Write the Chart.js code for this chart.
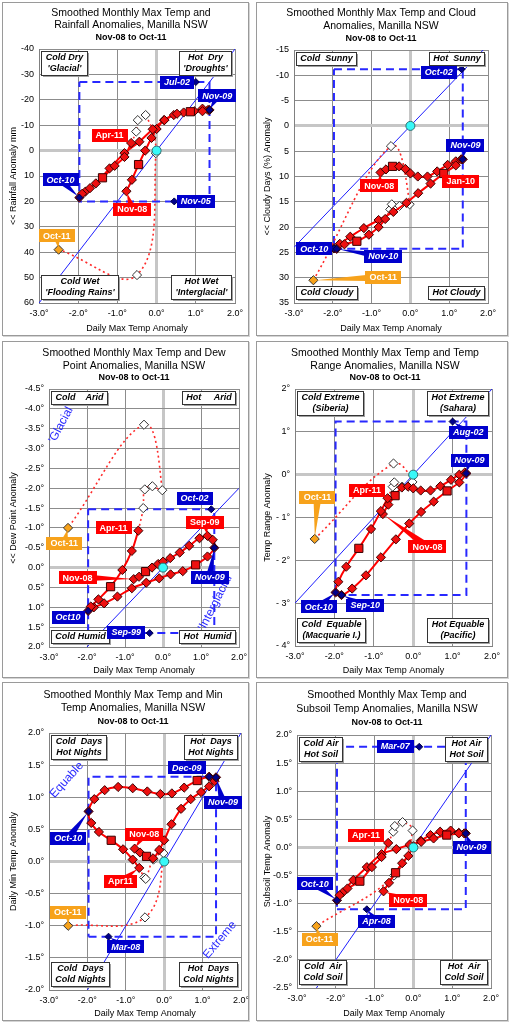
<!DOCTYPE html>
<html>
<head>
<meta charset="utf-8">
<title>Manilla NSW smoothed anomaly loops</title>
<script src="https://cdn.jsdelivr.net/npm/chart.js@4.4.1/dist/chart.umd.min.js"></script>
<style>
  body { margin: 0; background: #fff; }
  .panel { position: absolute; border: 1px solid #9a9a9a; background: #fff; box-shadow: 1px 1px 0 #d4d4d4; }
  .panel canvas { display: block; }
</style>
</head>
<body>
<div class="panel" style="left:2px;top:2px"><canvas id="rain" width="245" height="332"></canvas></div>
<div class="panel" style="left:256px;top:2px"><canvas id="cloud" width="250" height="332"></canvas></div>
<div class="panel" style="left:2px;top:341px"><canvas id="dew" width="245" height="335"></canvas></div>
<div class="panel" style="left:256px;top:341px"><canvas id="range" width="250" height="335"></canvas></div>
<div class="panel" style="left:2px;top:682px"><canvas id="minT" width="245" height="337"></canvas></div>
<div class="panel" style="left:256px;top:682px"><canvas id="soil" width="250" height="337"></canvas></div>
<script>
const FONT = 'Arial, "Liberation Sans", Helvetica, sans-serif';

// months shown; after Apr-11 the smoothed values are provisional (dotted)
const months = ['Nov-08','Dec-08','Jan-09','Feb-09','Mar-09','Apr-09','May-09','Jun-09','Jul-09','Aug-09','Sep-09','Oct-09',
  'Nov-09','Dec-09','Jan-10','Feb-10','Mar-10','Apr-10','May-10','Jun-10','Jul-10','Aug-10','Sep-10','Oct-10',
  'Nov-10','Dec-10','Jan-11','Feb-11','Mar-11','Apr-11','May-11','Jun-11','Jul-11','Aug-11','Sep-11','Oct-11'];
const lastFull = 'Apr-11';

// x for every panel: smoothed daily max temp anomaly
const maxTemp = [-0.77,-0.63,-0.46,-0.29,-0.13,0.0,0.19,0.44,0.69,0.96,1.17,1.31,
  1.35,1.17,0.86,0.52,0.2,-0.1,-0.44,-0.82,-1.2,-1.55,-1.82,-1.97,
  -1.9,-1.7,-1.38,-1.07,-0.82,-0.65,-0.52,-0.48,-0.28,-0.02,-0.5,-2.5];

const rainfall = [16,11.5,5.5,0,-5,-8.5,-12,-14,-15,-15.5,-16.5,-16,
  -16,-15.5,-15.3,-14.5,-12,-8.4,-3.5,1,7,12.9,16.2,18.5,
  17,14.8,10.7,6,2.5,-3,-7.5,-12,-14,1,49,39];
const cloud = [9.2,8.6,8.0,8.0,8.5,9.4,10.0,10.0,9.0,7.7,7.0,6.6,
  6.6,7.8,9.4,11.4,13.3,15.2,17.0,18.6,20.2,21.9,23.3,24.2,
  24.3,23.4,22.8,21.5,20.0,18.4,16.5,15.5,15.8,15.5,4.0,30.5];
const dewPoint = [0.29,0.23,0.1,0.0,-0.09,-0.15,-0.24,-0.38,-0.55,-0.74,-0.8,-0.7,
  -0.5,-0.28,-0.07,0.09,0.17,0.27,0.38,0.52,0.73,0.9,1.0,1.09,
  0.98,0.8,0.48,0.06,-0.42,-0.93,-1.5,-1.97,-2.05,-1.95,-3.6,-1.0];
const tempRange = [-0.92,-0.7,-0.49,-0.3,-0.28,-0.32,-0.37,-0.37,-0.27,-0.12,0.0,0.05,
  0.03,-0.18,-0.38,-0.63,-0.87,-1.14,-1.51,-1.93,-2.35,-2.66,-2.81,-2.75,
  -2.5,-2.15,-1.72,-1.27,-0.85,-0.55,-0.28,-0.18,-0.28,-0.17,0.26,-1.5];
const minTemp = [0.2,0.14,0.08,0.05,0.18,0.33,0.58,0.82,0.97,1.08,1.17,1.25,
  1.31,1.32,1.26,1.15,1.06,1.05,1.09,1.14,1.16,1.11,0.97,0.78,
  0.6,0.46,0.33,0.19,0.03,-0.1,-0.25,-0.27,0.03,0.13,-0.87,-1.0];
const subsoil = [-0.78,-0.63,-0.45,-0.28,-0.15,0.02,0.12,0.22,0.28,0.3,0.26,0.25,
  0.25,0.25,0.22,0.16,0.1,0.05,-0.03,-0.12,-0.35,-0.58,-0.8,-0.94,
  -0.85,-0.73,-0.6,-0.35,-0.17,0.08,0.28,0.38,0.45,0.3,-0.5,-1.4];

// record extremes (month, max temp anomaly, other anomaly)
const rainRecords = [['Jul-02',1.0,-27],['Nov-05',0.45,20],['Nov-09',1.35,-16],['Oct-10',-1.97,18.5]];
const cloudRecords = [['Oct-02',1.32,-11.2],['Nov-09',1.35,6.6],['Oct-10',-1.97,24.2],['Nov-10',-1.9,24.3]];
const dewRecords = [['Oct-02',1.27,-1.47],['Nov-09',1.35,-0.5],['Oct-10',-1.97,1.09],['Sep-99',-0.35,1.65]];
const rangeRecords = [['Aug-02',1.0,1.24],['Nov-09',1.35,0.03],['Oct-10',-1.97,-2.75],['Sep-10',-1.82,-2.81]];
const minRecords = [['Mar-08',-1.45,-1.17],['Dec-09',1.17,1.32],['Nov-09',1.35,1.31],['Oct-10',-1.97,0.78]];
const soilRecords = [['Mar-07',0.15,1.79],['Apr-08',-1.2,-1.1],['Nov-09',1.35,0.25],['Oct-10',-1.97,-0.94]];

const origin = [0, 0];

// tick labels
const xTickLabels = ['-3.0°','-2.0°','-1.0°','0.0°','1.0°','2.0°'];
const rainTicks = ['-40','-30','-20','-10','0','10','20','30','40','50','60'];
const cloudTicks = ['-15','-10','-5','0','5','10','15','20','25','30','35'];
const dewTicks = ['-4.5°','-4.0°','-3.5°','-3.0°','-2.5°','-2.0°','-1.5°','-1.0°','-0.5°','0.0°','0.5°','1.0°','1.5°','2.0°'];
const rangeTicks = ['- 4°','- 3°','- 2°','- 1°','0°','1°','2°'];
const minTicks = ['-2.0°','-1.5°','-1.0°','-0.5°','0.0°','0.5°','1.0°','1.5°','2.0°'];
const soilTicks = ['-2.5°','-2.0°','-1.5°','-1.0°','-0.5°','0.0°','0.5°','1.0°','1.5°','2.0°'];

// quadrant captions: top-left, top-right, bottom-left, bottom-right
const rainQuads = [['Cold Dry',"'Glacial'"],['Hot  Dry',"'Droughts'"],['Cold Wet',"'Flooding Rains'"],['Hot Wet',"'Interglacial'"]];
const cloudQuads = [['Cold  Sunny'],['Hot  Sunny'],['Cold Cloudy'],['Hot Cloudy']];
const dewQuads = [['Cold    Arid'],['Hot     Arid'],['Cold Humid'],['Hot  Humid']];
const rangeQuads = [['Cold Extreme','(Siberia)'],['Hot Extreme','(Sahara)'],['Cold  Equable','(Macquarie I.)'],['Hot Equable','(Pacific)']];
const minQuads = [['Cold  Days','Hot Nights'],['Hot  Days','Hot Nights'],['Cold  Days','Cold Nights'],['Hot  Days','Cold Nights']];
const soilQuads = [['Cold Air','Hot Soil'],['Hot Air','Hot Soil'],['Cold  Air','Cold Soil'],['Hot  Air','Cold Soil']];

// callouts: text, colour (b blue / r red / o orange), box centre in axis units, month it points at
const rainCallouts = [['Jul-02','b',0.52,-27,null],['Nov-09','b',1.55,-21.5,'Nov-09'],['Apr-11','r',-1.2,-6,null],
  ['Oct-10','b',-2.45,11.5,'Oct-10'],['Nov-08','r',-0.62,23,'Nov-08'],['Nov-05','b',1.0,20,null],['Oct-11','o',-2.55,33.5,'Oct-11']];
const cloudCallouts = [['Oct-02','b',0.73,-10.6,null],['Nov-09','b',1.42,3.8,'Nov-09'],['Nov-08','r',-0.8,11.8,'Nov-08'],
  ['Jan-10','r',1.3,10.9,'Jan-10'],['Oct-10','b',-2.48,24.3,null],['Nov-10','b',-0.7,25.8,'Nov-10'],['Oct-11','o',-0.7,29.9,'Oct-11']];
const dewCallouts = [['Oct-02','b',0.83,-1.75,null],['Sep-09','r',1.1,-1.14,'Sep-09'],['Apr-11','r',-1.3,-1.0,null],
  ['Oct-11','o',-2.6,-0.62,'Oct-11'],['Nov-08','r',-2.25,0.25,'Nov-08'],['Nov-09','b',1.23,0.24,'Nov-09'],
  ['Oct10','b',-2.5,1.25,'Oct-10'],['Sep-99','b',-0.97,1.63,null]];
const rangeCallouts = [['Aug-02','b',1.4,0.99,'Aug-02'],['Nov-09','b',1.43,0.34,'Nov-09'],['Oct-11','o',-2.43,-0.53,'Oct-11'],
  ['Apr-11','r',-1.17,-0.37,null],['Nov-08','r',0.36,-1.68,'Nov-08'],['Oct-10','b',-2.4,-3.08,'Oct-10'],['Sep-10','b',-1.22,-3.05,'Sep-10']];
const minCallouts = [['Dec-09','b',0.59,1.46,null],['Nov-09','b',1.53,0.92,'Nov-09'],['Oct-10','b',-2.5,0.36,'Oct-10'],
  ['Nov-08','r',-0.52,0.42,'Nov-08'],['Apr11','r',-1.14,-0.31,'Apr-11'],['Oct-11','o',-2.51,-0.79,'Oct-11'],['Mar-08','b',-1.0,-1.33,'Mar-08']];
const soilCallouts = [['Mar-07','b',-0.47,1.8,null],['Apr-11','r',-1.22,0.22,'Apr-11'],['Nov-09','b',1.5,0.0,'Nov-09'],
  ['Oct-10','b',-2.54,-0.65,'Oct-10'],['Nov-08','r',-0.13,-0.94,'Nov-08'],['Apr-08','b',-0.95,-1.31,'Apr-08'],['Oct-11','o',-2.42,-1.63,'Oct-11']];

const period = 'Nov-08 to Oct-11';

const panels = [
  { canvas: 'rain', series: rainfall, records: rainRecords, yTicks: rainTicks, reverse: true, slope: -20,
    title: ['Smoothed Monthly Max Temp and', 'Rainfall Anomalies, Manilla NSW'], yTitle: '<< Rainfall Anomaly mm',
    quads: rainQuads, callouts: rainCallouts, notes: [], titleX: 128, titleY: [10, 22.5, 35], area: [36, 46, 13, 32] },
  { canvas: 'cloud', series: cloud, records: cloudRecords, yTicks: cloudTicks, reverse: true, slope: -8,
    title: ['Smoothed Monthly Max Temp and Cloud', 'Anomalies, Manilla NSW'], yTitle: '<< Cloudy Days (%) Anomaly',
    quads: cloudQuads, callouts: cloudCallouts, notes: [], titleX: 124, titleY: [10.5, 23, 36], area: [37, 47, 19, 32] },
  { canvas: 'dew', series: dewPoint, records: dewRecords, yTicks: dewTicks, reverse: true, slope: -1,
    title: ['Smoothed Monthly Max Temp and Dew', 'Point Anomalies, Manilla NSW'], yTitle: '<< Dew Point Anomaly',
    quads: dewQuads, callouts: dewCallouts,
    notes: [["'Glacial'", -2.67, -3.62, -62], ["'Interglacial'", 1.39, 0.86, -63]],
    titleX: 131, titleY: [11, 24, 36], area: [46, 47, 9, 30] },
  { canvas: 'range', series: tempRange, records: rangeRecords, yTicks: rangeTicks, reverse: false, slope: 1,
    title: ['Smoothed Monthly Max Temp and Temp', 'Range Anomalies, Manilla NSW'], yTitle: 'Temp Range Anomaly',
    quads: rangeQuads, callouts: rangeCallouts, notes: [], titleX: 128, titleY: [11, 24, 36], area: [38, 47, 15, 31] },
  { canvas: 'minT', series: minTemp, records: minRecords, yTicks: minTicks, reverse: false, slope: 1,
    title: ['Smoothed Monthly Max Temp and Min', 'Temp Anomalies, Manilla NSW'], yTitle: 'Daily Min Temp Anomaly',
    quads: minQuads, callouts: minCallouts,
    notes: [['Equable', -2.54, 1.27, -48], ['Extreme', 1.45, -1.22, -50]],
    titleX: 130, titleY: [12, 25.5, 38.5], area: [46, 50, 7, 30] },
  { canvas: 'soil', series: subsoil, records: soilRecords, yTicks: soilTicks, reverse: false, slope: 1,
    title: ['Smoothed Monthly Max Temp and', 'Subsoil Temp Anomalies, Manilla NSW'], yTitle: 'Subsoil Temp Anomaly',
    quads: soilQuads, callouts: soilCallouts, notes: [], titleX: 130, titleY: [12, 26, 39.5], area: [40, 52, 16, 32] }
];

const tickValue = label => parseFloat(label.replace(/[^0-9.\-]/g, ''));
const isZero = c => c.tick && Math.abs(c.tick.value) < 1e-9;
const gridStyle = {
  color: c => isZero(c) ? '#c6c6c6' : '#8c8c8c',
  lineWidth: c => isZero(c) ? 3 : 1,
  drawTicks: false
};
const fills = { b: '#0000cc', r: '#ff0000', o: '#f7a21b' };

function locate(p, ref) {
  const rec = p.records.find(r => r[0] === ref);
  if (rec) return [rec[1], rec[2]];
  const i = months.indexOf(ref);
  return [maxTemp[i], p.series[i]];
}

function overlay(p) {
  return {
    id: 'overlay',
    afterDatasetsDraw(chart) {
      const ctx = chart.ctx, a = chart.chartArea;
      const at = (x, y) => [chart.scales.x.getPixelForValue(x), chart.scales.y.getPixelForValue(y)];
      ctx.save();
      ctx.textAlign = 'center';
      ctx.textBaseline = 'middle';

      p.notes.forEach(([t, x, y, ang]) => {
        const [px, py] = at(x, y);
        ctx.save();
        ctx.translate(px, py);
        ctx.rotate(ang * Math.PI / 180);
        ctx.font = '12px ' + FONT;
        ctx.fillStyle = '#2a2aff';
        ctx.fillText(t, 0, 0);
        ctx.restore();
      });

      p.quads.forEach((lines, k) => {
        ctx.font = 'italic bold 9px ' + FONT;
        const w = Math.round(Math.max(...lines.map(l => ctx.measureText(l).width)) + 8);
        const h = lines.length * 11 + 2;
        const x = Math.round(k % 2 ? a.right - 4 - w : a.left + 2);
        const y = Math.round(k < 2 ? a.top + 2 : a.bottom - 4 - h);
        ctx.fillStyle = '#a0a0a0';
        ctx.fillRect(x + 2, y + 2, w, h);
        ctx.fillStyle = '#fff';
        ctx.fillRect(x, y, w, h);
        ctx.strokeStyle = '#333';
        ctx.lineWidth = 1;
        ctx.strokeRect(x + 0.5, y + 0.5, w, h);
        ctx.fillStyle = '#000';
        lines.forEach((l, j) => ctx.fillText(l, x + w / 2 + 0.5, y + 7 + j * 11));
      });

      p.callouts.forEach(([text, kind, cx, cy, ref]) => {
        const fill = fills[kind];
        ctx.font = (kind === 'b' ? 'italic bold ' : 'bold ') + '9px ' + FONT;
        const w = Math.round(ctx.measureText(text).width + 8), h = 13;
        const [bx, by] = at(cx, cy);
        ctx.fillStyle = fill;
        if (ref) {
          const [tx, ty] = at(...locate(p, ref));
          const dx = tx - bx, dy = ty - by, len = Math.hypot(dx, dy) || 1;
          const nx = -dy / len * 4, ny = dx / len * 4;
          ctx.beginPath();
          ctx.moveTo(bx + nx, by + ny);
          ctx.lineTo(tx - dx / len * 2, ty - dy / len * 2);
          ctx.lineTo(bx - nx, by - ny);
          ctx.closePath();
          ctx.fill();
        }
        ctx.fillRect(Math.round(bx - w / 2), Math.round(by - h / 2), w, h);
        ctx.fillStyle = '#fff';
        ctx.fillText(text, bx, by + 0.5);
      });
      ctx.restore();
    },
    afterDraw(chart) {
      const ctx = chart.ctx;
      ctx.save();
      ctx.fillStyle = '#000';
      ctx.textAlign = 'center';
      ctx.textBaseline = 'middle';
      ctx.font = '10.5px ' + FONT;
      ctx.fillText(p.title[0], p.titleX, p.titleY[0]);
      ctx.fillText(p.title[1], p.titleX, p.titleY[1]);
      ctx.font = 'bold 9px ' + FONT;
      ctx.fillText(period, p.titleX, p.titleY[2]);
      ctx.restore();
    }
  };
}

function makePanel(p) {
  const n = months.indexOf(lastFull) + 1;
  const pts = months.map((m, i) => ({ x: maxTemp[i], y: p.series[i] }));
  const solid = pts.slice(0, n);
  const tail = pts.slice(n - 1);
  const isJan = months.slice(0, n).map(m => m.startsWith('Jan'));
  const rx = p.records.map(r => r[1]), ry = p.records.map(r => r[2]);
  const x0 = Math.min(...rx), x1 = Math.max(...rx), y0 = Math.min(...ry), y1 = Math.max(...ry);
  const xVals = xTickLabels.map(tickValue), yVals = p.yTicks.map(tickValue);
  const xLo = xVals[0], xHi = xVals[xVals.length - 1];
  const [yw, padTop, padRight, xh] = p.area;
  const tickFont = { size: 9, family: FONT };

  new Chart(document.getElementById(p.canvas), {
    type: 'scatter',
    data: {
      datasets: [
        { data: [{ x: origin[0], y: origin[1] }], pointStyle: 'circle', pointRadius: 4.5,
          pointBackgroundColor: '#38f8f8', pointBorderColor: '#2a7070', pointBorderWidth: 1 },
        { data: p.records.map(r => ({ x: r[1], y: r[2] })), pointStyle: 'rectRot', pointRadius: 3.5,
          pointBackgroundColor: '#00008c', pointBorderColor: '#000040', pointBorderWidth: 1 },
        { data: solid, showLine: true, borderColor: '#ff0000', borderWidth: 2, tension: 0.35,
          pointStyle: isJan.map(j => j ? 'rect' : 'rectRot'), pointRadius: isJan.map(j => j ? 5.8 : 4.6),
          pointBackgroundColor: '#ee1010', pointBorderColor: '#3a0000', pointBorderWidth: 1 },
        { data: tail, showLine: true, borderColor: '#ff2a2a', borderWidth: 1.6, borderDash: [2, 3], tension: 0.4,
          pointStyle: 'rectRot', pointRadius: tail.map((_, i) => i === 0 ? 0 : 4.6),
          pointBackgroundColor: tail.map((_, i) => i === tail.length - 1 ? '#f7a21b' : '#ffffff'),
          pointBorderColor: '#333', pointBorderWidth: 1 },
        { data: [{ x: x0, y: y0 }, { x: x1, y: y0 }, { x: x1, y: y1 }, { x: x0, y: y1 }, { x: x0, y: y0 }],
          showLine: true, borderColor: '#2828ff', borderWidth: 2, borderDash: [8, 5], pointRadius: 0, tension: 0 },
        { data: [{ x: xLo, y: p.slope * xLo }, { x: xHi, y: p.slope * xHi }],
          showLine: true, borderColor: '#1e1eff', borderWidth: 1, pointRadius: 0, tension: 0, clip: 0 }
      ]
    },
    options: {
      responsive: false,
      animation: false,
      events: [],
      layout: { padding: { left: 0, top: padTop, right: padRight, bottom: 0 } },
      plugins: { legend: { display: false }, tooltip: { enabled: false } },
      scales: {
        x: {
          type: 'linear', min: xLo, max: xHi,
          afterBuildTicks: s => { s.ticks = xVals.map(v => ({ value: v })); },
          afterFit: s => { s.height = xh; s.paddingLeft = 0; s.paddingRight = 0; },
          ticks: { callback: (v, i) => xTickLabels[i], font: tickFont, color: '#000', padding: 5, maxRotation: 0, autoSkip: false },
          grid: gridStyle,
          border: { color: '#808080' },
          title: { display: true, text: 'Daily Max Temp Anomaly', font: tickFont, color: '#000', padding: { top: 0, bottom: 1 } }
        },
        y: {
          type: 'linear', min: yVals[0], max: yVals[yVals.length - 1], reverse: p.reverse,
          afterBuildTicks: s => { s.ticks = yVals.map(v => ({ value: v })); },
          afterFit: s => { s.width = yw; s.paddingTop = 0; s.paddingBottom = 0; },
          ticks: { callback: (v, i) => p.yTicks[i], font: tickFont, color: '#000', padding: 5, autoSkip: false },
          grid: gridStyle,
          border: { color: '#808080' },
          title: { display: true, text: p.yTitle, font: tickFont, color: '#000', padding: { top: 5, bottom: 0 } }
        }
      }
    },
    plugins: [overlay(p)]
  });
}

panels.forEach(makePanel);
</script>
</body>
</html>
